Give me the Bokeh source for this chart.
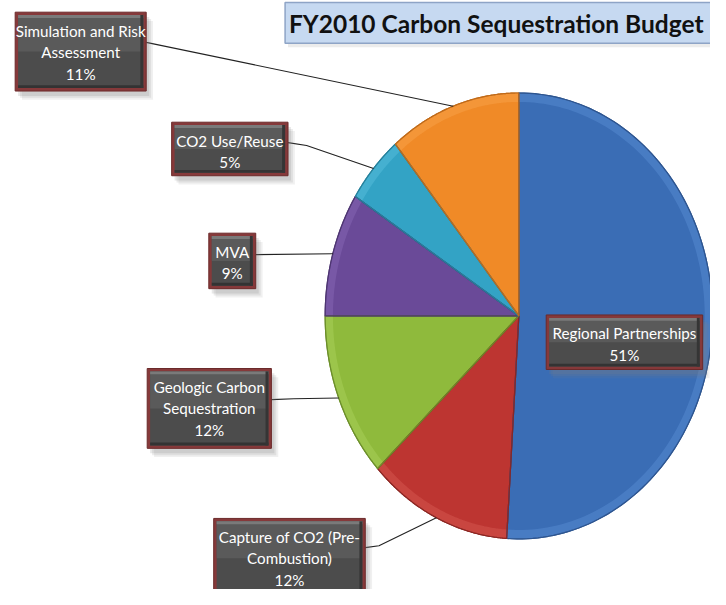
import numpy as np
from bokeh.plotting import figure
from bokeh.models import Range1d
from bokeh.core.properties import value
from bokeh.embed import file_html
from bokeh.resources import INLINE

# ---------------- data ----------------
title_text = "FY2010 Carbon Sequestration Budget"
categories = ["Regional Partnerships", "Capture of CO2 (Pre-Combustion)",
              "Geologic Carbon Sequestration", "MVA", "CO2 Use/Reuse",
              "Simulation and Risk Assessment"]
label_lines = [["Regional Partnerships"],
               ["Capture of CO2 (Pre-", "Combustion)"],
               ["Geologic Carbon", "Sequestration"],
               ["MVA"],
               ["CO2 Use/Reuse"],
               ["Simulation and Risk", "Assessment"]]
shares = [51, 12, 12, 9, 5, 11]

# ---------------- styles / layout ----------------
colors = ["#3a6db5", "#bd3531", "#8fba3c", "#6a4a98", "#33a3c5", "#f08a27"]
rims = ["#5b8fd4", "#d85a55", "#aed35e", "#8a6bb8", "#5cc2de", "#f9a54e"]
edges = ["#2d5590", "#8c2622", "#6c8f2a", "#4e3572", "#25819c", "#c06a18"]
CX, CY, RX, RY = 530.0, 324.0, 198.0, 229.0
# label boxes: (left, right, top, bottom)
boxes = [(558, 718, 323, 379), (218, 373, 532, 614), (150, 277, 378, 460),
         (213, 261, 239, 296), (175, 294, 125, 180), (15, 149, 12, 93)]
leader_start = [None, [(373, 562), (387, 560)], [(277, 410), (300, 409)],
                [(261, 261)], [(294, 146), (313, 149)], [(149, 43)]]

p = figure(width=710, height=589, x_range=Range1d(0, 726), y_range=Range1d(605, 0),
           output_backend="svg", toolbar_location=None, min_border=0)
p.axis.visible = False
p.grid.visible = False
p.outline_line_color = None
p.background_fill_color = "white"

def pt(theta, r=1.0):
    return CX + r * RX * np.sin(theta), CY - r * RY * np.cos(theta)

total = float(sum(shares))
cum = np.concatenate([[0], np.cumsum(shares)]) / total * 2 * np.pi

# slices
xs, ys = [], []
rx_, ry_ = [], []
for i in range(len(shares)):
    th = np.linspace(cum[i], cum[i + 1], 120)
    ax, ay = pt(th)
    xs.append(np.concatenate([[CX], ax]).tolist())
    ys.append(np.concatenate([[CY], ay]).tolist())
    bx, by = pt(th[::-1], 0.96)
    rx_.append(np.concatenate([ax, bx]).tolist())
    ry_.append(np.concatenate([ay, by]).tolist())
p.patches(xs, ys, fill_color=colors, line_color=edges, line_width=1.2)
p.patches(rx_, ry_, fill_color=rims, fill_alpha=0.45, line_color=None)
p.patches(xs, ys, fill_color=None, line_color=edges, line_width=1.2)

# leader lines (end on the slice's mid-angle at the rim)
for i in range(len(shares)):
    if leader_start[i] is None:
        continue
    mid = (cum[i] + cum[i + 1]) / 2
    ex, ey = pt(mid)
    lx = [q[0] for q in leader_start[i]] + [float(ex)]
    ly = [q[1] for q in leader_start[i]] + [float(ey)]
    p.line(lx, ly, line_color="#222222", line_width=1.1)

# title box
p.quad(left=[294], right=[760], top=[6], bottom=[48], fill_color="#d9d9d9",
       fill_alpha=0.5, line_color=None)
p.quad(left=[291], right=[760], top=[2], bottom=[44], fill_color="#c6d9f1",
       line_color="#8ea4c6", line_width=1.5)
p.text(x=[295], y=[24], text=[title_text], text_font=value("Lato"),
       text_font_style="bold", text_font_size="24.5px", text_color="#111111",
       text_baseline="middle", text_align="left")

# label boxes
L = [b[0] for b in boxes]; R = [b[1] for b in boxes]
T = [b[2] for b in boxes]; B = [b[3] for b in boxes]
for off, a in [(7, 0.12), (5, 0.15), (3, 0.18)]:
    p.quad(left=[l + off for l in L], right=[r + off for r in R],
           top=[t + off + 2 for t in T], bottom=[b + off + 2 for b in B],
           fill_color="#808080", fill_alpha=a, line_color=None)
p.quad(left=L, right=R, top=T, bottom=B, fill_color="#86393a", line_color="#6b2a2a",
       line_width=1)
p.quad(left=[l + 3 for l in L], right=[r - 3 for r in R], top=[t + 3 for t in T],
       bottom=[b - 3 for b in B], fill_color="#4c4c4c", line_color=None)
p.quad(left=[l + 3 for l in L], right=[r - 3 for r in R], top=[t + 3 for t in T],
       bottom=[(t + b) / 2 for t, b in zip(T, B)], fill_color="#5a5a5a", line_color=None)
p.quad(left=[l + 3 for l in L], right=[r - 3 for r in R], top=[t + 3 for t in T],
       bottom=[t + 6 for t in T], fill_color="#7a7a7a", line_color=None)
p.quad(left=[l + 3 for l in L], right=[r - 3 for r in R], top=[b - 6 for b in B],
       bottom=[b - 3 for b in B], fill_color="#333333", line_color=None)
p.quad(left=[r - 6 for r in R], right=[r - 3 for r in R], top=[t + 3 for t in T],
       bottom=[b - 3 for b in B], fill_color="#353535", line_color=None)

tx, ty, tt = [], [], []
for i in range(len(shares)):
    lines = label_lines[i] + [f"{shares[i]}%"]
    cxb = (boxes[i][0] + boxes[i][1]) / 2
    for k, s in enumerate(lines):
        tx.append(cxb)
        ty.append(boxes[i][2] + 19 + 22 * k)
        tt.append(s)
p.text(x=tx, y=ty, text=tt, text_font=value("Lato"), text_font_size="15.2px",
       text_color="white", text_align="center", text_baseline="middle")

open("out.html", "w").write(file_html(p, INLINE))
